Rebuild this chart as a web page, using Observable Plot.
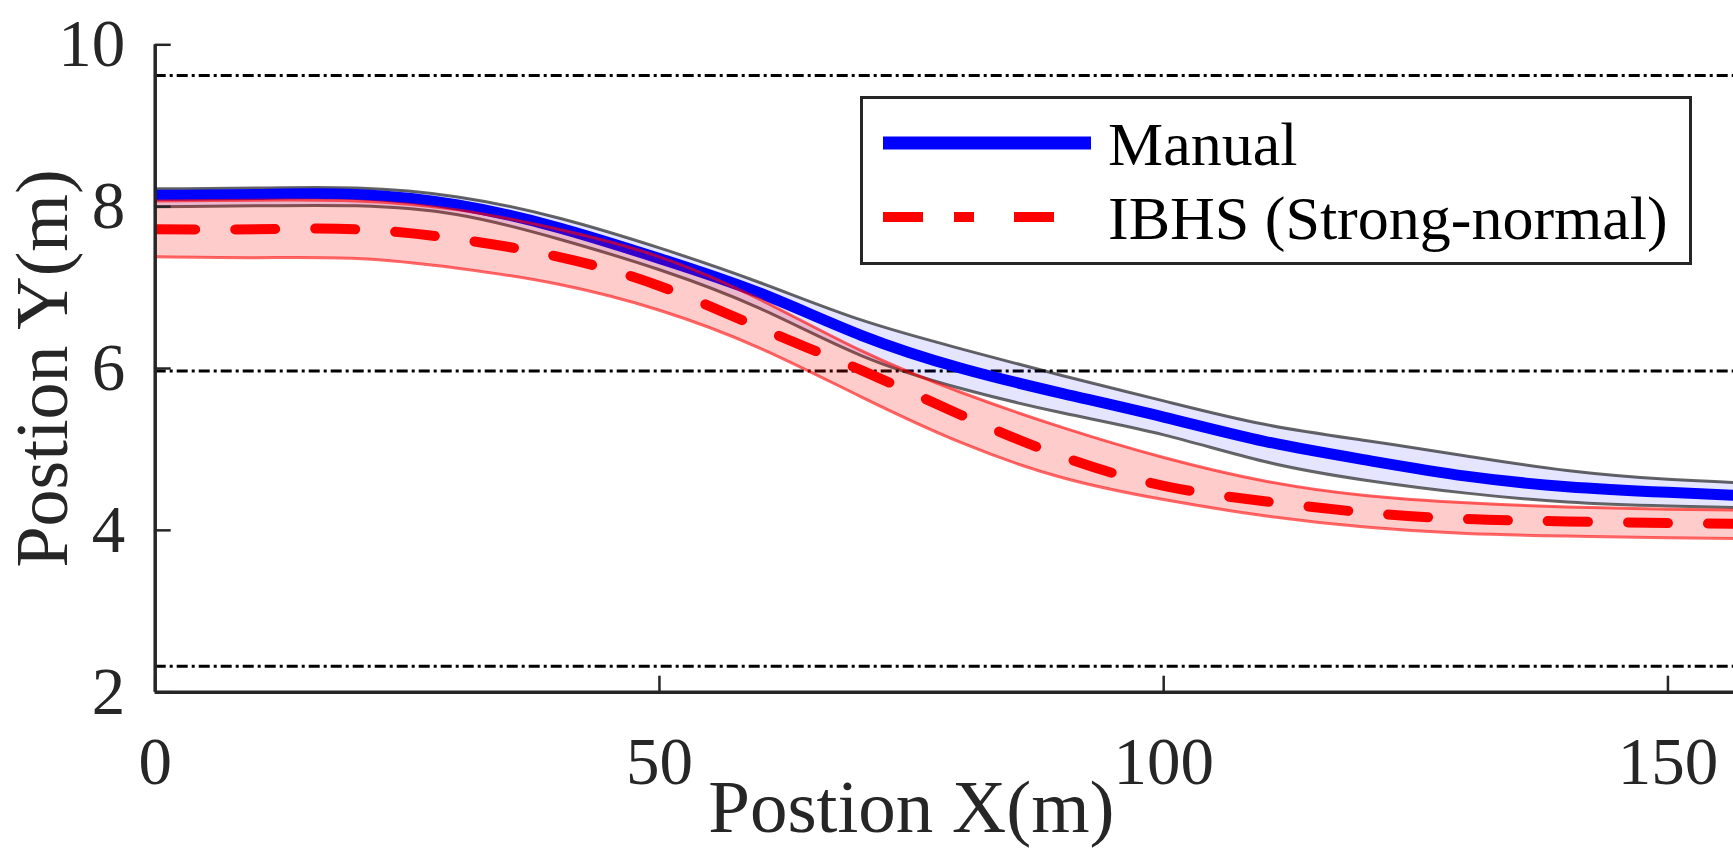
<!DOCTYPE html>
<html>
<head>
<meta charset="utf-8">
<script src="https://cdn.jsdelivr.net/npm/d3@7"></script>
<script src="https://cdn.jsdelivr.net/npm/@observablehq/plot@0.6"></script>
<style>
html, body { margin: 0; padding: 0; background: #fff; overflow: hidden; }
#wrap { position: relative; width: 1733px; height: 848px; }
#legend { position: absolute; left: 860px; top: 96px; }
</style>
</head>
<body>
<div id="wrap"><div id="chart"></div><div id="legend"></div></div>
<script>
// ---- data ----
const xs          = [0, 10, 20, 30, 40, 50, 60, 70, 80, 90, 100, 110, 120, 130, 140, 150, 157];
const manualY     = [8.14, 8.15, 8.15, 8.02, 7.74, 7.36, 6.93, 6.41, 6.00, 5.69, 5.40, 5.10, 4.87, 4.67, 4.54, 4.47, 4.43];
const manualUpper = [8.22, 8.23, 8.23, 8.12, 7.86, 7.49, 7.06, 6.60, 6.24, 5.91, 5.60, 5.31, 5.11, 4.92, 4.74, 4.63, 4.59];
const manualLower = [8.00, 8.01, 8.01, 7.90, 7.60, 7.22, 6.74, 6.16, 5.75, 5.45, 5.18, 4.85, 4.62, 4.46, 4.35, 4.30, 4.28];
const ibhsY       = [7.72, 7.72, 7.72, 7.60, 7.38, 7.02, 6.50, 5.98, 5.42, 4.91, 4.55, 4.36, 4.22, 4.14, 4.11, 4.09, 4.08];
const ibhsUpper   = [8.07, 8.08, 8.07, 7.96, 7.72, 7.38, 6.85, 6.22, 5.70, 5.27, 4.90, 4.61, 4.43, 4.34, 4.29, 4.26, 4.25];
const ibhsLower   = [7.38, 7.37, 7.36, 7.24, 7.04, 6.72, 6.25, 5.65, 5.08, 4.65, 4.38, 4.18, 4.04, 3.96, 3.93, 3.91, 3.90];
const laneLines   = [2.32, 5.97, 9.62];
const xTicks      = [0, 50, 100, 150];
const yTicks      = [2, 4, 6, 8, 10];
const seriesNames = ["Manual", "IBHS (Strong-normal)"];
const xLabel      = "Postion X(m)";
const yLabel      = "Postion Y(m)";

const rows = xs.map((x, i) => ({
  x, manual: manualY[i], mU: manualUpper[i], mL: manualLower[i],
  ibhs: ibhsY[i], iU: ibhsUpper[i], iL: ibhsLower[i]
}));

const FONT = "'Liberation Serif', 'Times New Roman', serif";
const INK = "#262626";
const curve = "natural";

const chart = Plot.plot({
  width: 1733,
  height: 848,
  marginLeft: 154.7,
  marginRight: 0,
  marginTop: 44.3,
  marginBottom: 156.3,
  x: { domain: [0, 156.5] },
  y: { domain: [2, 10] },
  style: { fontFamily: FONT, color: INK, background: "white", overflow: "visible" },
  marks: [
    Plot.ruleY(laneLines, { stroke: "black", strokeWidth: 3, strokeDasharray: "11,4,3,4" }),
    // Manual band
    Plot.areaY(rows, { x: "x", y1: "mL", y2: "mU", fill: "blue", fillOpacity: 0.1, curve, clip: true }),
    Plot.line(rows, { x: "x", y: "mU", stroke: "black", strokeOpacity: 0.6, strokeWidth: 3, curve, clip: true }),
    Plot.line(rows, { x: "x", y: "mL", stroke: "black", strokeOpacity: 0.6, strokeWidth: 3, curve, clip: true }),
    Plot.line(rows, { x: "x", y: "manual", stroke: "blue", strokeWidth: 11, curve, clip: true }),
    // IBHS band
    Plot.areaY(rows, { x: "x", y1: "iL", y2: "iU", fill: "red", fillOpacity: 0.2, curve, clip: true }),
    Plot.line(rows, { x: "x", y: "iU", stroke: "red", strokeOpacity: 0.6, strokeWidth: 3, curve, clip: true }),
    Plot.line(rows, { x: "x", y: "iL", stroke: "red", strokeOpacity: 0.6, strokeWidth: 3, curve, clip: true }),
    Plot.line(rows, { x: "x", y: "ibhs", stroke: "red", strokeWidth: 10, strokeDasharray: "40,40", curve, clip: true }),
    // axes
    Plot.ruleX([0], { stroke: INK, strokeWidth: 3.5 }),
    Plot.ruleY([2], { stroke: INK, strokeWidth: 3.5 }),
    Plot.axisY({ ticks: yTicks, tickSize: -16, tickFormat: () => "", label: null, stroke: INK, strokeWidth: 2.5 }),
    Plot.axisX({ ticks: xTicks, tickSize: -16, tickFormat: () => "", label: null, stroke: INK, strokeWidth: 2.5 }),
    Plot.axisY({ ticks: yTicks, tickSize: 0, tickPadding: 30, fontSize: 67, label: null, fill: INK }),
    Plot.axisX({ ticks: xTicks, tickSize: 0, tickPadding: 44, fontSize: 67, label: null, fill: INK }),
    Plot.text([xLabel], { text: d => d, frameAnchor: "bottom", textAnchor: "middle", dx: -33, dy: 140, lineAnchor: "bottom", fontSize: 75, fill: INK }),
    Plot.text([yLabel], { text: d => d, frameAnchor: "left", textAnchor: "middle", rotate: -90, dx: -88, lineAnchor: "bottom", fontSize: 74, fill: INK })
  ]
});
document.getElementById("chart").appendChild(chart);

// ---- legend (inside the axes, top right) ----
const legendStyles = [
  { stroke: "blue", width: 13, dash: null, len: 208 },
  { stroke: "red", width: 10, dash: "40,31,20,40,40,200", len: 171 }
];
const lg = d3.select("#legend").append("svg")
  .attr("width", 833).attr("height", 170)
  .style("font-family", FONT);
lg.append("rect").attr("x", 1.5).attr("y", 1.5).attr("width", 829).attr("height", 166)
  .attr("fill", "white").attr("stroke", INK).attr("stroke-width", 3);
seriesNames.forEach((name, i) => {
  const s = legendStyles[i];
  const cy = 47 + i * 74;
  lg.append("line").attr("x1", 23).attr("x2", 23 + s.len).attr("y1", cy).attr("y2", cy)
    .attr("stroke", s.stroke).attr("stroke-width", s.width)
    .attr("stroke-dasharray", s.dash);
  lg.append("text").attr("x", 248).attr("y", cy + 22).attr("font-size", 62).attr("fill", "black").text(name);
});
</script>
</body>
</html>
